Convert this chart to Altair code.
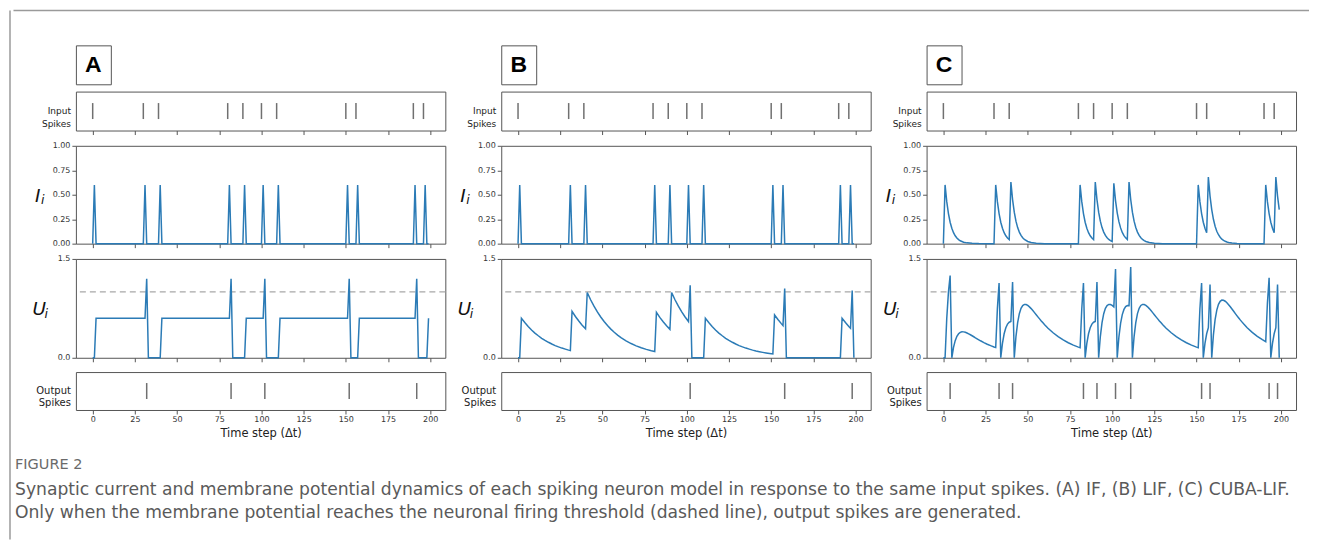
import altair as alt
import pandas as pd

# ---------------- data ----------------
X_TICKS = [0, 25, 50, 75, 100, 125, 150, 175, 200]
X_DOMAIN = [-9.95, 208.95]
I_TICKS = [0.0, 0.25, 0.5, 0.75, 1.0]
U_TICKS = [0.0, 0.5, 1.0, 1.5]
THRESHOLD = [1.0]

PANEL_LETTERS = ["A", "B", "C"]
INPUT_LABEL = "Input\nSpikes"
OUTPUT_LABEL = "Output\nSpikes"
CURRENT_LABEL = ["I", "i"]
POTENTIAL_LABEL = ["U", "i"]
X_TITLE = "Time step (Δt)"
FIG_LABEL = "FIGURE 2"
CAPTION_LINES = [
    "Synaptic current and membrane potential dynamics of each spiking neuron model in response to the same input spikes. (A) IF, (B) LIF, (C) CUBA-LIF.",
    "Only when the membrane potential reaches the neuronal firing threshold (dashed line), output spikes are generated.",
]

INPUT_SPIKES = [0, 30, 39, 80, 89, 100, 109, 150, 156, 190, 196]
OUT_IF = [32, 82, 102, 152, 192]
OUT_LIF = [102, 158, 198]
OUT_CUBA = [4, 33, 41, 83, 91, 102, 111, 153, 158, 193, 198]

# synaptic current of IF and LIF (instantaneous)
I_STEP_T = [0, 1, 2, 30, 31, 32, 39, 40, 41, 80, 81, 82, 89, 90, 91, 100, 101, 102,
            109, 110, 111, 150, 151, 152, 156, 157, 158, 190, 191, 192, 196, 197, 198, 199]
I_STEP_V = [0, 0.6, 0, 0, 0.6, 0, 0, 0.6, 0, 0, 0.6, 0, 0, 0.6, 0, 0, 0.6, 0,
            0, 0.6, 0, 0, 0.6, 0, 0, 0.6, 0, 0, 0.6, 0, 0, 0.6, 0, 0]

# membrane potential IF
U_IF_T = [0, 1, 2, 31, 32, 33, 40, 41, 81, 82, 83, 90, 91, 101, 102, 103, 110, 111,
          151, 152, 153, 157, 158, 191, 192, 193, 198, 199]
U_IF_V = [0, 0, 0.6, 0.6, 1.2, 0, 0, 0.6, 0.6, 1.2, 0, 0, 0.6, 0.6, 1.2, 0, 0, 0.6,
          0.6, 1.2, 0, 0, 0.6, 0.6, 1.2, 0, 0, 0.6]

# membrane potential LIF
U_LIF_T = [0, 1, 2, 4, 6, 8, 10, 12, 14, 16, 18, 20, 22, 24, 26, 28, 30, 31,
           32, 34, 36, 38, 40,
           41, 43, 45, 47, 49, 51, 53, 55, 57, 59, 61, 64, 67, 70, 73, 76, 79, 81,
           82, 84, 86, 88, 90,
           91, 93, 95, 97, 99, 101,
           102, 103, 110,
           111, 113, 115, 117, 119, 121, 123, 125, 127, 129, 131, 133, 135, 137, 139, 141, 143, 145, 147, 149, 151,
           152, 154, 156, 157,
           158, 159, 191,
           192, 194, 196, 197,
           198, 199]
U_LIF_V = [0, 0, 0.60, 0.534, 0.475, 0.422, 0.375, 0.334, 0.296, 0.264, 0.235, 0.209, 0.185, 0.165, 0.147, 0.131, 0.116, 0.110,
           0.704, 0.626, 0.557, 0.495, 0.440,
           0.99, 0.880, 0.783, 0.696, 0.619, 0.550, 0.489, 0.435, 0.387, 0.344, 0.306, 0.257, 0.216, 0.181, 0.152, 0.127, 0.107, 0.095,
           0.690, 0.613, 0.546, 0.485, 0.431,
           0.99, 0.880, 0.783, 0.696, 0.619, 0.550,
           1.10, 0, 0,
           0.60, 0.534, 0.475, 0.422, 0.375, 0.334, 0.296, 0.264, 0.235, 0.209, 0.185, 0.165, 0.147, 0.131, 0.116, 0.103, 0.092, 0.082, 0.073, 0.065, 0.058,
           0.65, 0.582, 0.518, 0.488,
           1.05, 0, 0,
           0.60, 0.534, 0.475, 0.448,
           1.02, 0]

# synaptic current CUBA-LIF
I_CUBA_T = [0, 1, 2, 3, 4, 5, 6, 7, 8, 9, 10, 12, 14, 17, 21, 30,
            31, 32, 33, 34, 35, 36, 37, 38, 39,
            40, 41, 42, 43, 44, 45, 46, 47, 48, 50, 52, 55, 60, 80,
            81, 82, 83, 84, 85, 86, 87, 88, 89,
            90, 91, 92, 93, 94, 95, 96, 97, 98, 99, 100,
            101, 102, 103, 104, 105, 106, 107, 108, 109,
            110, 111, 112, 113, 114, 115, 116, 117, 118, 119, 120, 122, 125, 130, 150,
            151, 152, 153, 154, 155, 156,
            157, 158, 159, 160, 161, 162, 163, 164, 165, 166, 167, 168, 169, 171, 174, 179, 190,
            191, 192, 193, 194, 195, 196,
            197, 198, 199]
I_CUBA_V = [0, 0.6, 0.429, 0.307, 0.219, 0.157, 0.112, 0.080, 0.057, 0.041, 0.029, 0.015, 0.008, 0.003, 0.0005, 0,
            0.6, 0.429, 0.307, 0.219, 0.157, 0.112, 0.080, 0.057, 0.041,
            0.629, 0.450, 0.322, 0.230, 0.164, 0.118, 0.084, 0.060, 0.043, 0.022, 0.011, 0.004, 0, 0,
            0.6, 0.429, 0.307, 0.219, 0.157, 0.112, 0.080, 0.057, 0.041,
            0.629, 0.450, 0.322, 0.230, 0.164, 0.118, 0.084, 0.060, 0.043, 0.031, 0.022,
            0.616, 0.440, 0.315, 0.225, 0.161, 0.115, 0.082, 0.059, 0.042,
            0.630, 0.451, 0.322, 0.230, 0.165, 0.118, 0.084, 0.060, 0.043, 0.031, 0.022, 0.011, 0.004, 0, 0,
            0.6, 0.429, 0.307, 0.219, 0.157, 0.112,
            0.680, 0.486, 0.348, 0.249, 0.178, 0.127, 0.091, 0.065, 0.046, 0.033, 0.024, 0.017, 0.012, 0.006, 0.002, 0, 0,
            0.6, 0.429, 0.307, 0.219, 0.157, 0.112,
            0.680, 0.486, 0.348]

# membrane potential CUBA-LIF
U_CUBA_T = [0, 1, 2, 3, 4, 5, 6, 7, 8, 9, 10, 11, 12, 13, 14, 15, 16, 17, 18, 19, 20, 22, 24, 26, 28, 30, 31,
            32, 33, 34, 35, 36, 37, 38, 39, 40, 41, 42,
            43, 44, 45, 46, 47, 48, 49, 50, 51, 52, 53, 54, 55, 56, 57, 58, 59, 60, 62, 65, 68, 71, 74, 77, 80, 81,
            82, 83, 84, 85, 86, 87, 88, 89, 90, 91, 92,
            93, 94, 95, 96, 97, 98, 99, 100, 101, 102, 103,
            104, 105, 106, 107, 108, 109, 110, 111, 112,
            113, 114, 115, 116, 117, 118, 119, 120, 121, 122, 123, 124, 125, 126, 127, 128, 129, 130, 132, 135, 138, 141, 144, 147, 150, 151,
            152, 153, 154, 155, 156, 157, 158, 159,
            160, 161, 162, 163, 164, 165, 166, 167, 168, 169, 170, 171, 172, 173, 174, 175, 176, 177, 178, 180, 183, 186, 189, 191,
            192, 193, 194, 195, 196, 197, 198, 199]
U_CUBA_V = [0, 0, 0.600, 0.996, 1.248, 0, 0.157, 0.260, 0.326, 0.365, 0.386, 0.394, 0.393, 0.386, 0.376, 0.363, 0.349, 0.334, 0.319, 0.303, 0.288, 0.258, 0.230, 0.206, 0.184, 0.164, 0.155,
            0.746, 1.134, 0, 0.219, 0.364, 0.456, 0.511, 0.540, 0.551, 1.150, 0,
            0.322, 0.534, 0.669, 0.750, 0.793, 0.809, 0.808, 0.794, 0.772, 0.746, 0.716, 0.685, 0.653, 0.621, 0.590, 0.559, 0.530, 0.502, 0.449, 0.379, 0.320, 0.270, 0.228, 0.192, 0.162, 0.153,
            0.745, 1.133, 0, 0.219, 0.364, 0.456, 0.511, 0.540, 0.551, 1.150, 0,
            0.322, 0.534, 0.669, 0.750, 0.793, 0.809, 0.808, 0.794, 0.772, 1.346, 0,
            0.315, 0.523, 0.655, 0.734, 0.776, 0.792, 0.790, 1.377, 0,
            0.322, 0.534, 0.670, 0.751, 0.794, 0.810, 0.808, 0.795, 0.773, 0.746, 0.716, 0.685, 0.653, 0.621, 0.590, 0.559, 0.530, 0.502, 0.449, 0.379, 0.320, 0.270, 0.228, 0.192, 0.162, 0.153,
            0.745, 1.133, 0, 0.219, 0.364, 0.456, 1.111, 0,
            0.348, 0.578, 0.724, 0.811, 0.857, 0.875, 0.873, 0.858, 0.835, 0.806, 0.774, 0.740, 0.705, 0.670, 0.636, 0.603, 0.571, 0.541, 0.511, 0.456, 0.385, 0.325, 0.274, 0.245,
            0.832, 1.215, 0, 0.219, 0.364, 0.456, 1.111, 0]

# ---------------- styles ----------------
FONT = "DejaVu Sans"
LINE_COLOR = "#2b7bb6"
FRAME_COLOR = "#555555"
OUTER_COLOR = "#9a9a9a"
SPIKE_COLOR = "#333333"
PW = 370          # plot width per panel
H_SPK_IN = 39
H_I = 98
H_U = 99
H_SPK_OUT = 38
L_A = 61          # left reach of panel A (to the outer frame)
L_BC = 50
ROW_GAP = 5.3

xscale = alt.Scale(domain=X_DOMAIN, nice=False, zero=False)
no_frame = alt.ViewBackground(stroke="transparent")


def x_axis(labels):
    if labels:
        return alt.Axis(values=X_TICKS, labels=True, title=X_TITLE, labelFontSize=8,
                        labelPadding=2, titleFontSize=11.5, titleFont=FONT,
                        titleFontWeight="normal", titleColor="#222222", titlePadding=4)
    return alt.Axis(values=X_TICKS, labels=False, title=None)


def guard(L):
    return alt.Chart(pd.DataFrame({"g": [0]})).mark_rule(color="white", strokeWidth=1).encode(
        x=alt.value(-L))


def spike_row(times, label, h, fsize, lh, L, bottom=False, top_pad=0):
    ticks = alt.Chart(pd.DataFrame({"t": times})).mark_tick(
        color=SPIKE_COLOR, thickness=1.5, size=16).encode(
        x=alt.X("t:Q", scale=xscale, axis=x_axis(bottom)))
    lab = alt.Chart(pd.DataFrame({"label": [label]})).mark_text(
        align="right", baseline="middle", font=FONT, fontSize=fsize, lineBreak="\n",
        lineHeight=lh, color="#222222").encode(
        text="label:N", x=alt.value(-5), y=alt.value(h / 2))
    layers = [guard(L)]
    if top_pad:
        layers.append(alt.Chart(pd.DataFrame({"g": [0]})).mark_rule(
            color="white", strokeWidth=1).encode(y=alt.value(-top_pad)))
    layers += [ticks, lab]
    return alt.layer(*layers).properties(width=PW, height=h)


def line_row(t, v, domain, ticks, fmt, label, h, mx, sx, base, sbase, L, threshold=False):
    ys = alt.Scale(domain=domain, nice=False, zero=False)
    df = pd.DataFrame({"t": t, "v": v})
    line = alt.Chart(df).mark_line(color=LINE_COLOR, strokeWidth=1.5).encode(
        x=alt.X("t:Q", scale=xscale, axis=x_axis(False)),
        y=alt.Y("v:Q", scale=ys, axis=alt.Axis(values=ticks, format=fmt, title=None)))
    main = alt.Chart(pd.DataFrame({"label": [label[0]]})).mark_text(
        align="left", baseline="alphabetic", font=FONT, fontSize=18.5, fontStyle="italic",
        color="#111111").encode(text="label:N", x=alt.value(mx), y=alt.value(base))
    sub = alt.Chart(pd.DataFrame({"label": [label[1]]})).mark_text(
        align="left", baseline="alphabetic", font=FONT, fontSize=12.5, fontStyle="italic",
        color="#111111").encode(text="label:N", x=alt.value(sx), y=alt.value(sbase))
    layers = [guard(L)]
    if threshold:
        layers.append(alt.Chart(pd.DataFrame({"v": THRESHOLD})).mark_rule(
            color="#a8a8a8", strokeDash=[6, 4], strokeWidth=1.4).encode(
            y=alt.Y("v:Q", scale=ys)))
    layers += [line, main, sub]
    return alt.layer(*layers).properties(width=PW, height=h)


def panel(letter, i_t, i_v, u_t, u_v, outs, L):
    box = alt.layer(
        guard(L),
        alt.Chart(pd.DataFrame({"label": [letter]})).mark_text(
            font="Liberation Sans", fontWeight="bold", fontSize=23, color="#000000",
            baseline="middle", align="center").encode(
            text="label:N", x=alt.value(17.5), y=alt.value(20)),
    ).properties(width=35, height=39)
    inp = spike_row(INPUT_SPIKES, INPUT_LABEL, H_SPK_IN, 9, 13, L)
    cur = line_row(i_t, i_v, [0, 1], I_TICKS, ".2f", CURRENT_LABEL, H_I,
                   -41, -35, 56, 58.5, L)
    pot = line_row(u_t, u_v, [0, 1.5], U_TICKS, ".1f", POTENTIAL_LABEL, H_U,
                   -43.5, -31.5, 56, 59, L, threshold=True)
    out = spike_row(outs, OUTPUT_LABEL, H_SPK_OUT, 10, 12.5, L, bottom=True, top_pad=2.5)
    return alt.vconcat(box, inp, cur, pot, out, spacing=ROW_GAP)


pA = panel(PANEL_LETTERS[0], I_STEP_T, I_STEP_V, U_IF_T, U_IF_V, OUT_IF, L_A)
pB = panel(PANEL_LETTERS[1], I_STEP_T, I_STEP_V, U_LIF_T, U_LIF_V, OUT_LIF, L_BC)
pC = panel(PANEL_LETTERS[2], I_CUBA_T, I_CUBA_V, U_CUBA_T, U_CUBA_V, OUT_CUBA, L_BC)
panels = alt.hconcat(pA, pB, pC, spacing=3)

topline = alt.Chart(pd.DataFrame({"g": [0]})).mark_rule(
    color=OUTER_COLOR, strokeWidth=1.5).encode(
    y=alt.value(0), x=alt.value(-(L_A + 1.5)), x2=alt.value(1235)).properties(
    width=1200, height=33.5, view=no_frame)

CAP_X = -61
fig_lab = alt.Chart(pd.DataFrame({"label": [FIG_LABEL]})).mark_text(
    align="left", baseline="middle", font=FONT, fontSize=14.5, color="#6a6a6a").encode(
    text="label:N", x=alt.value(CAP_X), y=alt.value(23.5))
cap1 = alt.Chart(pd.DataFrame({"label": [CAPTION_LINES[0]]})).mark_text(
    align="left", baseline="middle", font=FONT, fontSize=17.2, color="#5a5a5a").encode(
    text="label:N", x=alt.value(CAP_X), y=alt.value(48.5))
cap2 = alt.Chart(pd.DataFrame({"label": [CAPTION_LINES[1]]})).mark_text(
    align="left", baseline="middle", font=FONT, fontSize=17.2, color="#5a5a5a").encode(
    text="label:N", x=alt.value(CAP_X), y=alt.value(71.5))
caption = alt.layer(fig_lab, cap1, cap2).properties(width=1150, height=100, view=no_frame)

body = alt.vconcat(topline, panels, caption, spacing=0)

leftline = alt.Chart(pd.DataFrame({"g": [0]})).mark_rule(
    color=OUTER_COLOR, strokeWidth=1.5).encode(x=alt.value(0)).properties(
    width=1, height=530, view=no_frame)

chart = alt.hconcat(leftline, body, spacing=0).properties(
    padding={"left": 0, "top": 0, "right": 0, "bottom": 0}
).configure(
    padding={"left": 0, "top": 0, "right": 0, "bottom": 0}
).configure_view(
    stroke=FRAME_COLOR, strokeWidth=1
).configure_axis(
    grid=False, domain=False, tickColor=FRAME_COLOR, tickSize=4, tickWidth=1,
    labelFont=FONT, labelFontSize=8, labelColor="#333333", labelPadding=2
)

chart.save("out.html", embed_options={"renderer": "svg", "actions": False})
